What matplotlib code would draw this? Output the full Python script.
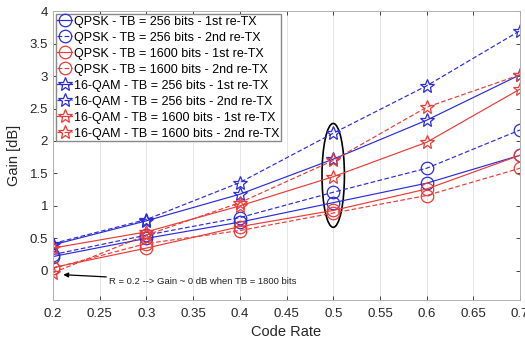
import matplotlib.pyplot as plt
from matplotlib.patches import Ellipse
from matplotlib.ticker import MultipleLocator
import numpy as np

plt.rcParams['font.family'] = ['Liberation Sans', 'DejaVu Sans']

code_rate = [0.2, 0.3, 0.4, 0.5, 0.6, 0.7]

qpsk_256_1st = [0.22, 0.50, 0.75, 1.05, 1.35, 1.78]
qpsk_256_2nd = [0.25, 0.55, 0.82, 1.21, 1.58, 2.17]
qpsk_1600_1st = [0.05, 0.35, 0.68, 0.93, 1.26, 1.78]
qpsk_1600_2nd = [0.04, 0.42, 0.62, 0.89, 1.16, 1.58]
qam_256_1st = [0.40, 0.77, 1.18, 1.72, 2.32, 3.02]
qam_256_2nd = [0.42, 0.79, 1.36, 2.12, 2.85, 3.70]
qam_1600_1st = [0.35, 0.60, 1.00, 1.45, 1.98, 2.80]
qam_1600_2nd = [-0.03, 0.55, 1.05, 1.70, 2.52, 3.02]

labels = [
    "QPSK - TB = 256 bits - 1st re-TX",
    "QPSK - TB = 256 bits - 2nd re-TX",
    "QPSK - TB = 1600 bits - 1st re-TX",
    "QPSK - TB = 1600 bits - 2nd re-TX",
    "16-QAM - TB = 256 bits - 1st re-TX",
    "16-QAM - TB = 256 bits - 2nd re-TX",
    "16-QAM - TB = 1600 bits - 1st re-TX",
    "16-QAM - TB = 1600 bits - 2nd re-TX",
]
series = [qpsk_256_1st, qpsk_256_2nd, qpsk_1600_1st, qpsk_1600_2nd,
          qam_256_1st, qam_256_2nd, qam_1600_1st, qam_1600_2nd]

xticks = [0.2, 0.25, 0.3, 0.35, 0.4, 0.45, 0.5, 0.55, 0.6, 0.65, 0.7]
xtick_labels = ['0.2', '0.25', '0.3', '0.35', '0.4', '0.45', '0.5', '0.55', '0.6', '0.65', '0.7']
yticks = [0, 0.5, 1, 1.5, 2, 2.5, 3, 3.5, 4]
ytick_labels = ['0', '0.5', '1', '1.5', '2', '2.5', '3', '3.5', '4']

blue = '#2b2bdc'
red = '#ec3b36'
styles = [
    (blue, '-', 'o', 9), (blue, '--', 'o', 9), (red, '-', 'o', 9), (red, '--', 'o', 9),
    (blue, '-', '*', 10), (blue, '--', '*', 10), (red, '-', '*', 10), (red, '--', '*', 10),
]

fig = plt.figure(figsize=(5.25, 3.39), dpi=100)
ax = fig.add_axes([0.101, 0.115, 0.8895, 0.852])

for ys, lab, (c, ls, m, ms) in zip(series, labels, styles):
    ax.plot(code_rate, ys, color=c, linestyle=ls, marker=m, markersize=ms,
            markerfacecolor='none', markeredgewidth=0.9, linewidth=0.85,
            label=lab, dashes=(4, 2) if ls == '--' else (None, None))

# highlight at R = 0.5
ax.add_patch(Ellipse((0.5, 1.47), 0.024, 1.6, fill=False, edgecolor='black', linewidth=1.2))

ax.annotate("R = 0.2 --> Gain ~ 0 dB when TB = 1800 bits", xy=(0.211, -0.06),
            xytext=(0.260, -0.17), fontsize=6.8, va='center', color='#222222',
            arrowprops=dict(arrowstyle='-|>', color='black', lw=0.9,
                            mutation_scale=7, shrinkA=0, shrinkB=0))

ax.set_xlim(0.2, 0.7)
ax.set_ylim(-0.45, 4)
ax.set_xticks(xticks)
ax.set_xticklabels(xtick_labels)
ax.set_yticks(yticks)
ax.set_yticklabels(ytick_labels)
ax.yaxis.set_minor_locator(MultipleLocator(1))
ax.grid(True, axis='x', color='#e6e6e6', linewidth=0.7)
ax.grid(True, axis='y', which='minor', color='#e6e6e6', linewidth=0.7)
ax.set_axisbelow(True)
ax.tick_params(direction='in', top=True, right=True, labelsize=9.5, colors='#262626',
               length=3, width=0.6)
ax.tick_params(axis='x', pad=6)
ax.tick_params(which='minor', length=0)
for s in ax.spines.values():
    s.set_color('#b0b0b0')
    s.set_linewidth(0.7)

ax.set_xlabel("Code Rate", fontsize=10.5, color='#262626', labelpad=3)
ax.set_ylabel("Gain [dB]", fontsize=10.5, color='#262626', labelpad=6)

ax.legend(loc='upper left', fontsize=9, handlelength=1.2, handletextpad=0.1,
          borderpad=0.15, labelspacing=0.32, borderaxespad=0.2, frameon=True,
          fancybox=False, edgecolor='#888888', framealpha=1)

fig.savefig("out.png", dpi=100)
